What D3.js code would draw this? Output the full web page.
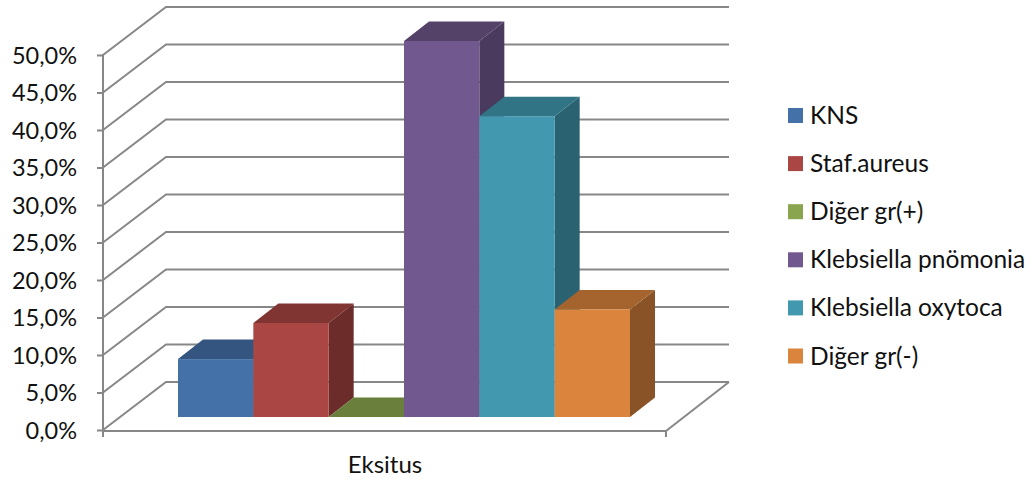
<!DOCTYPE html>
<html><head><meta charset="utf-8">
<script src="https://cdn.jsdelivr.net/npm/d3@7/dist/d3.min.js"></script>
<style>html,body{margin:0;padding:0;background:#fff}svg{display:block}text{font-family:Lato,"Open Sans",sans-serif;fill:#111}</style>
</head><body><svg id="c" width="1035" height="483"></svg>
<script>
const category = "Eksitus";
const seriesNames = ["KNS","Staf.aureus","Diğer gr(+)","Klebsiella pnömonia","Klebsiella oxytoca","Diğer gr(-)"];
const seriesValues = [7.7,12.5,0,50,40,14.3];
const frontColors = ["#4472a8","#aa4744","#89a54e","#71588f","#4198af","#db843d"];
const topColors = ["#34557f","#813533","#6a7f3b","#554269","#307485","#a5642e"];
const sideColors = ["#2b466a","#6b2c2a","#566830","#4a3a5e","#2a6272","#8a5327"];
const tickValues = d3.range(0,51,5);

const svg = d3.select("#c");
const y = d3.scaleLinear().domain([0,50]).range([430,55]);
const wallDx = 63, wallDy = -48, barDx = 25, barDy = -19.5;
const xFront = [103,666];
const barBase = 417;
const xBand = d3.scaleBand().domain(seriesNames).range([178,630]);
const h = d3.scaleLinear().domain([0,50]).range([0,376]);
const grid = "#878787";
const path = pts => "M"+pts.map(p=>p.join(",")).join("L");

svg.append("g").selectAll("path").data(tickValues).join("path")
  .attr("fill","none").attr("stroke",grid).attr("stroke-width",2)
  .attr("d",t=>path([[xFront[0],y(t)],[xFront[0]+wallDx,y(t)+wallDy],[xFront[1]+wallDx,y(t)+wallDy]]));
svg.append("path").attr("fill","none").attr("stroke",grid).attr("stroke-width",2)
  .attr("d",path([[xFront[1],y(0)+1],[xFront[1]+wallDx,y(0)+wallDy]]));

const yAxis = d3.axisLeft(y).tickValues(tickValues).tickSize(6).tickPadding(20)
  .tickFormat(d=>d3.format(".1f")(d).replace(".",",")+"%");
const gy = svg.append("g").attr("transform","translate(103,0)").call(yAxis);
gy.select(".domain").attr("stroke",grid).attr("stroke-width",2).attr("d",`M0,${y(50)-1}V${y(0)+7}`);
gy.selectAll(".tick line").attr("stroke",grid).attr("stroke-width",2);
gy.selectAll("text").style("font-size","23.5px").attr("dy","0.36em").attr("text-anchor","end");
const xAxis = d3.axisBottom(d3.scalePoint().domain([category]).range([(xFront[0]+xFront[1])/2,(xFront[0]+xFront[1])/2])).tickSize(0).tickPadding(34);
const gx = svg.append("g").attr("transform",`translate(0,${y(0)+1})`).call(xAxis);
gx.select(".domain").remove();
gx.selectAll("text").style("font-size","24px").attr("dy","0.32em");
svg.append("path").attr("fill","none").attr("stroke",grid).attr("stroke-width",2)
  .attr("d",`M${xFront[0]},${y(0)+1}H${xFront[1]}V${y(0)+7}`);

const bars = svg.append("g").selectAll("g").data(seriesNames).join("g");
bars.each(function(name,i){
  const g = d3.select(this), x0 = xBand(name), x1 = x0+xBand.bandwidth(), yt = barBase-h(seriesValues[i]);
  g.append("path").attr("fill",sideColors[i]).attr("d",path([[x1,yt],[x1+barDx,yt+barDy],[x1+barDx,barBase+barDy],[x1,barBase]])+"Z");
  g.append("path").attr("fill",topColors[i]).attr("d",path([[x0,yt],[x0+barDx,yt+barDy],[x1+barDx,yt+barDy],[x1,yt]])+"Z");
  g.append("rect").attr("x",x0).attr("y",yt).attr("width",x1-x0).attr("height",barBase-yt).attr("fill",frontColors[i]);
});

const legendY = d3.scalePoint().domain(seriesNames).range([115.5,356]);
const lg = svg.append("g").selectAll("g").data(seriesNames).join("g")
  .attr("transform",d=>`translate(788,${legendY(d)})`);
lg.append("rect").attr("x",0).attr("y",-7.5).attr("width",15).attr("height",15).attr("fill",(d,i)=>frontColors[i]);
lg.append("text").attr("x",22).attr("y",0).attr("dy","0.35em").style("font-size","24.5px").text(d=>d);
</script></body></html>
